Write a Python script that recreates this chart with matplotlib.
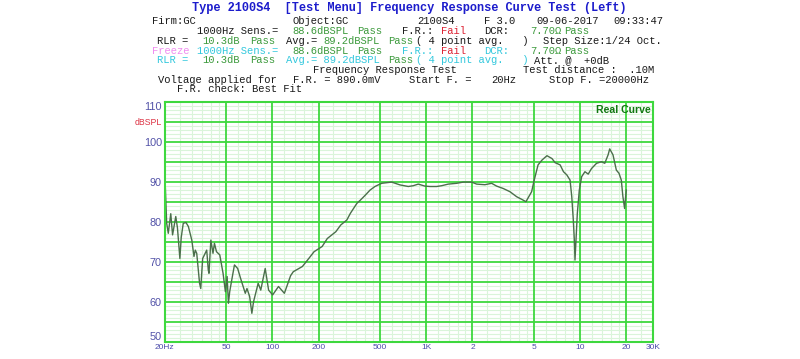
import matplotlib
matplotlib.use("Agg")
import matplotlib.pyplot as plt
import numpy as np

# ---------------- data ----------------
freq = [20, 20.2, 20.4, 20.6, 21.1, 21.9, 22.5, 23.6, 24.2, 25.1, 25.6, 26.4, 27.5, 28.5,
        30, 31, 31.6, 32.3, 33.7, 34.3, 35.3, 37.5, 38.4, 38.8, 39.9, 41.2, 42.1, 43.4,
        45.6, 47.9, 49.6, 50.9, 51.9, 52.9, 54.3, 56.8, 59.6, 62.3, 66.8, 68.5, 71.3,
        73.7, 75.6, 81, 84.2, 90, 94.7, 100.6, 109.8, 119.9, 131.6, 137, 157, 169.5,
        187, 211, 228, 259, 279, 305, 322, 355, 374, 404, 432, 465, 514, 597, 676, 766,
        825, 889, 982, 1059, 1170, 1262, 1393, 1579, 1743, 1976, 2130, 2411, 2666,
        2872, 3171, 3506, 3875, 4176, 4454, 4850, 5040, 5340, 5660, 6100, 6570, 6900,
        7430, 7810, 8210, 8620, 8840, 9050, 9190, 9280, 9420, 9610, 9900, 10250,
        10770, 11310, 11890, 12810, 13800, 14490, 15230, 15600, 16390, 17230, 17930,
        18560, 19000, 19500, 19800, 20000]
spl = [90, 88.5, 84, 79.6, 77.1, 82, 76.7, 81.3, 78.5, 70.8, 76, 79.6, 79.8, 78.8,
       75.4, 71.3, 72.9, 72.1, 64.6, 63.3, 70.8, 72.9, 67.9, 67.1, 75.4, 72.1, 74.6, 72.5,
       71.7, 67.1, 62.5, 66.3, 59.6, 62.5, 65, 69.2, 68.3, 65.8, 62.1, 63.3, 61.3,
       57.1, 60, 64.6, 62.9, 68.3, 62.9, 61.7, 63.8, 62.1, 66.5, 67.5, 68.8, 70.4,
       72.5, 73.8, 75.8, 77.5, 79.2, 80.4, 82.1, 84.6, 85.4, 86.7, 87.9, 88.8, 89.6, 89.9, 89.2, 88.8,
       89.0, 89.4, 88.9, 88.8, 88.8, 89.0, 89.4, 89.6, 89.9, 89.9, 89.4, 89.25, 89.6,
       88.9, 88.3, 87.5, 86.25, 85.6, 85.0, 87.5, 90.4, 94.2, 95.4, 96.5, 95.8, 94.75,
       94.2, 92.5, 91.7, 90.4, 86.3, 80.4, 75.4, 70.4, 75.4, 82.1, 87.9, 91.25,
       92.5, 91.9, 93.3, 94.6, 95, 94.6, 96.7, 98.2, 96.7, 92.9, 92.1,
       90.4, 86.3, 83.3, 86.3, 87.9]

x_major = [20, 50, 100, 200, 500, 1000, 2000, 5000, 10000, 20000, 30000]
x_labels = ["20Hz", "50", "100", "200", "500", "1K", "2", "5", "10", "20", "30K"]
y_major = [50, 55, 60, 65, 70, 75, 80, 85, 90, 95, 100, 105, 110]
y_labels = ["50", "", "60", "", "70", "", "80", "", "90", "", "100", "dBSPL", "110"]
minor_mult = [1.2, 1.4, 1.6, 1.8, 2.5, 3, 3.5, 4, 4.5, 6, 7, 8, 9]

W, H = 800, 359
fig = plt.figure(figsize=(W / 100, H / 100), dpi=100)
fig.patch.set_facecolor("white")

# axes placement in pixels
L, R, T, B = 164.7, 653.4, 101.7, 341.7
ax = fig.add_axes([L / W, 1 - B / H, (R - L) / W, (B - T) / H])
ax.set_xscale("log")
ax.set_xlim(20, 30000)
ax.set_ylim(50, 110)

MAJ = "#3ed83e"
MIN = "#daf4da"

x_minor = [m * d for d in [10, 100, 1000, 10000] for m in minor_mult]
x_minor = [v for v in x_minor if 20 < v < 30000 and v not in x_major]
y_minor = [v for v in range(50, 111) if v not in y_major]
ax.set_xticks(x_major)
ax.set_xticklabels(x_labels)
ax.set_yticks(y_major)
ax.set_yticklabels(y_labels)
ax.minorticks_off()

# grid: minor first, then major on top
for v in x_minor:
    ax.axvline(v, color=MIN, lw=0.8, zorder=0.5)
for v in y_minor:
    ax.axhline(v, color=MIN, lw=0.8, zorder=0.5)
for v in x_major:
    ax.axvline(v, color=MAJ, lw=1.3, zorder=0.8)
for v in y_major:
    ax.axhline(v, color=MAJ, lw=1.3, zorder=0.8)

ax.tick_params(which="both", length=0)
ax.tick_params(axis="x", labelsize=6, labelcolor="#4a4aaa", pad=2)
ax.tick_params(axis="y", labelsize=7.8, labelcolor="#5252a8", pad=2)
for lab in ax.get_yticklabels():
    lab.set_fontfamily("Liberation Sans")
    if lab.get_text() == "dBSPL":
        lab.set_color("#dd3344")
        lab.set_fontsize(6.3)
    if lab.get_text() == "110":
        lab.set_va("top")
    if lab.get_text() == "50":
        lab.set_va("bottom")
for lab in ax.get_xticklabels():
    lab.set_fontfamily("Liberation Sans")
for s in ax.spines.values():
    s.set_color(MAJ)
    s.set_linewidth(1.5)
    s.set_zorder(3)

ax.plot(freq, spl, color="#4b6f4b", lw=1.0, zorder=2)
ax.text(0.995, 0.965, "Real Curve", transform=ax.transAxes, ha="right", va="center",
        fontsize=7.6, fontweight="bold", color="#117711", family="Liberation Sans", zorder=4)

# ---------------- header text ----------------
BLK = "#1a1a1a"
GRN = "#3c9a3c"
RED = "#dd2233"
CYN = "#33c8dd"
PNK = "#f08cf0"
MONO = "Liberation Mono"
FS = 7.6


def T(x, y, s, c=BLK, fs=FS, **kw):
    fig.text(x / W, 1 - y / H, s, color=c, fontsize=fs, family=MONO,
             ha="left", va="center", **kw)


fig.text(0.5 * (193.3 + 625) / W, 1 - 8.5 / H,
         "Type 2100S4  [Test Menu] Frequency Response Curve Test (Left)",
         color="#1c1ccc", fontsize=8.6, family=MONO, fontweight="bold",
         ha="center", va="center")

y1, y2, y3, y4, y5, y6, y7, y8 = 21.5, 31.3, 41.0, 50.7, 60.3, 70.0, 79.8, 89.3
T(151.7, y1, "Firm:GC")
T(292.7, y1, "Object:GC")
T(417.7, y1, "2100S4")
T(484.3, y1, "F 3.0")
T(536.7, y1, "09-06-2017")
T(613.3, y1, "09:33:47")

T(196.7, y2, "1000Hz Sens.=")
T(292.7, y2, "88.6dBSPL", GRN)
T(356.7, y2, "Pass", GRN)
T(402.3, y2, "F.R.:")
T(441.0, y2, "Fail", RED)
T(484.3, y2, "DCR:")
T(530.0, y2, "7.70Ω", GRN)
T(564.3, y2, "Pass", GRN)

T(157.3, y3, "RLR =")
T(202.7, y3, "10.3dB", GRN)
T(250.0, y3, "Pass", GRN)
T(286.0, y3, "Avg.=")
T(323.3, y3, "89.2dBSPL", GRN)
T(388.3, y3, "Pass", GRN)
T(416.5, y3, "( 4 point avg.   )")
T(542.7, y3, "Step Size:1/24 Oct.")

T(151.7, y4, "Freeze", PNK)
T(196.7, y4, "1000Hz Sens.=", CYN)
T(292.7, y4, "88.6dBSPL", GRN)
T(356.7, y4, "Pass", GRN)
T(402.3, y4, "F.R.:", CYN)
T(441.0, y4, "Fail", RED)
T(484.3, y4, "DCR:", CYN)
T(530.0, y4, "7.70Ω", GRN)
T(564.3, y4, "Pass", GRN)

T(157.3, y5, "RLR =", CYN)
T(202.7, y5, "10.3dB", GRN)
T(250.0, y5, "Pass", GRN)
T(286.0, y5, "Avg.= 89.2dBSPL", CYN)
T(388.3, y5, "Pass", GRN)
T(416.5, y5, "( 4 point avg.   )", CYN)
T(534.0, y5, "Att. @  +0dB")

T(312.7, y6, "Frequency Response Test")
T(523.3, y6, "Test distance :  .10M")

T(158.3, y7, "Voltage applied for")
T(292.7, y7, "F.R. = 890.0mV")
T(408.7, y7, "Start F. =")
T(491.7, y7, "20Hz")
T(549.3, y7, "Stop F. =20000Hz")

T(176.7, y8, "F.R. check: Best Fit")

fig.savefig("out.png", dpi=100, facecolor="white")
